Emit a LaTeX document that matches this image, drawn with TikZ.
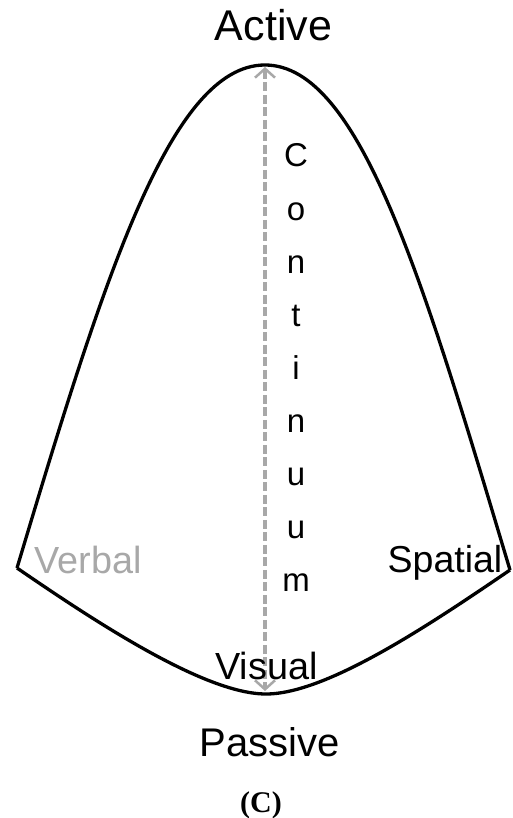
\documentclass[tikz,border=0pt]{standalone}
\usepackage{fontspec}
\setmainfont{Liberation Sans}
\newfontfamily\capfont{Liberation Serif}
\usetikzlibrary{arrows.meta}
\definecolor{lightgray}{RGB}{168,168,168}
\tikzset{
  lbl/.style={anchor=base, inner sep=0pt, font=\fontsize{37.8}{40}\selectfont},
  letter/.style={anchor=base, inner sep=0pt, font=\fontsize{33}{35}\selectfont},
  outline/.style={line width=3.3pt, black, line join=round},
  contarrow/.style={lightgray, line width=4pt, dash pattern=on 9pt off 3.5pt,
    {Straight Barb[length=9pt,width=20pt,line width=2.5pt]}-{Straight Barb[length=9pt,width=20pt,line width=2.5pt]}}
}
\begin{document}
\begin{tikzpicture}[x=1pt,y=-1pt]
\useasboundingbox (0,0) rectangle (513,818);
\coordinate (L) at (17,568);
\coordinate (R) at (510,570);
\coordinate (T) at (265,65);
\coordinate (B) at (266,694);
\draw[outline] (L) .. controls (103.1,280.6) and (170,65) .. (T)
  .. controls (360,65) and (423.9,282.6) .. (R);
\draw[outline] (L) .. controls (100,625) and (206,694) .. (B)
  .. controls (326,694) and (428,626) .. (R);
\coordinate (At) at (265,67);
\coordinate (Ab) at (265,691);
\draw[contarrow] (At) -- (Ab);
\node[anchor=base, inner sep=0pt, font=\fontsize{43}{45}\selectfont] (active) at (273.5,41) {Active};
\node[anchor=base, inner sep=0pt, font=\fontsize{40}{42}\selectfont] (passive) at (270,756) {Passive};
\node[lbl, text=lightgray] (verbal) at (88,573) {Verbal};
\node[lbl, font=\fontsize{37.5}{40}\selectfont] (spatial) at (445,572) {Spatial};
\node[lbl] (visual) at (266.5,679) {Visual};
\foreach \ch [count=\i] in {C,o,n,t,i,n,u,u,m}
  \node[letter] (c\i) at (296,{167+53.1*(\i-1)}) {\ch};
\node[anchor=base, inner sep=0pt, font=\capfont\bfseries\fontsize{30}{32}\selectfont] (cap) at (261,812) {(C)};
\end{tikzpicture}
\end{document}
